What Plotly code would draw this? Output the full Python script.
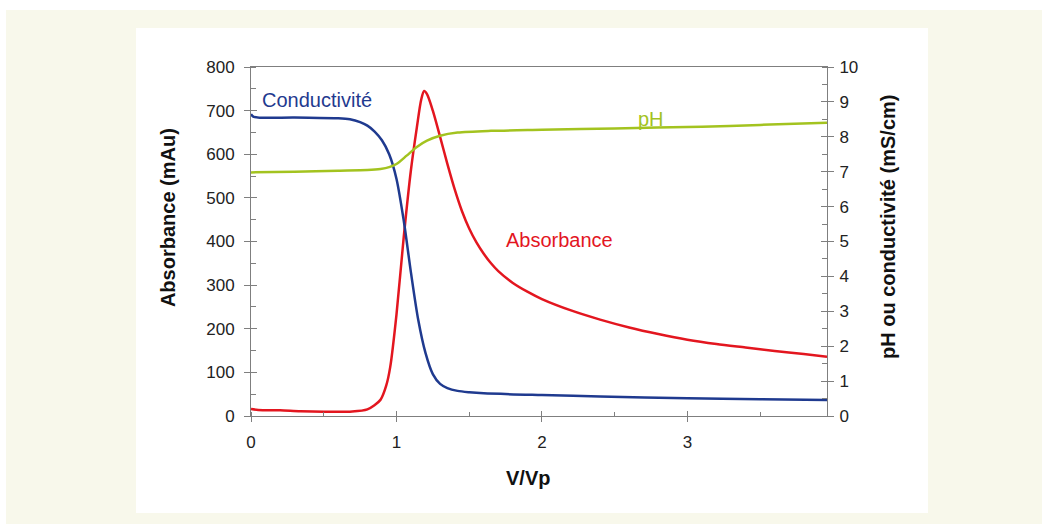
import plotly.graph_objects as go

# ---- data ----
abs_x = [0, 0.05, 0.2, 0.34, 0.5, 0.68, 0.8, 0.89, 0.93, 0.957, 1.0, 1.05, 1.1, 1.14, 1.17, 1.19,
         1.21, 1.25, 1.3, 1.35, 1.4, 1.45, 1.5, 1.55, 1.6, 1.65, 1.7, 1.8, 1.9, 2.0, 2.2,
         2.4, 2.6, 2.8, 3.0, 3.2, 3.4, 3.6, 3.8, 3.96]
abs_y = [16, 14, 13, 11, 10, 10, 15, 37, 70, 112, 232, 410, 565, 661, 725, 745,
         738, 700, 640, 578, 520, 470, 430, 398, 372, 350, 332, 305, 285, 268, 242,
         221, 203, 188, 175, 165, 157, 149, 142, 136]

cond_x = [0, 0.02, 0.3, 0.6, 0.68, 0.75, 0.8, 0.85, 0.9, 0.95, 1.0, 1.05, 1.1,
          1.15, 1.2, 1.25, 1.3, 1.35, 1.42, 1.5, 1.6, 2.0, 2.4, 3.0, 3.5, 3.96]
cond_y = [8.65, 8.57, 8.55, 8.53, 8.5, 8.42, 8.32, 8.15, 7.9, 7.5, 6.8, 5.6, 4.1,
          2.75, 1.8, 1.2, 0.92, 0.8, 0.72, 0.68, 0.65, 0.6, 0.56, 0.51, 0.48, 0.46]

ph_x = [0, 0.3, 0.6, 0.8, 0.89, 0.95, 1.0, 1.07, 1.14, 1.21, 1.3, 1.42, 1.65, 2.0, 2.5, 3.1, 3.5, 3.96]
ph_y = [6.98, 7.0, 7.03, 7.05, 7.08, 7.13, 7.22, 7.46, 7.71, 7.89, 8.03, 8.12, 8.17, 8.2, 8.24, 8.29, 8.34, 8.4]

x_ticks = [0, 1, 2, 3]
left_ticks = [0, 100, 200, 300, 400, 500, 600, 700, 800]
right_ticks = [0, 1, 2, 3, 4, 5, 6, 7, 8, 9, 10]

BLUE = "#1f3a8f"
RED = "#e3161f"
GREEN = "#a3c31f"
AX = "#7f7f7f"
FONT = "Liberation Sans, Arial, sans-serif"

fig = go.Figure()
fig.add_trace(go.Scatter(x=cond_x, y=cond_y, mode="lines", yaxis="y2",
                         line=dict(color=BLUE, width=2.5, shape="spline", smoothing=0.8),
                         name="Conductivité", hoverinfo="skip"))
fig.add_trace(go.Scatter(x=ph_x, y=ph_y, mode="lines", yaxis="y2",
                         line=dict(color=GREEN, width=2.5, shape="spline", smoothing=0.8),
                         name="pH", hoverinfo="skip"))
fig.add_trace(go.Scatter(x=abs_x, y=abs_y, mode="lines", yaxis="y",
                         line=dict(color=RED, width=2.5, shape="spline", smoothing=0.8),
                         name="Absorbance", hoverinfo="skip"))
# dummy traces to register the overlay tick axes
fig.add_trace(go.Scatter(x=[None], y=[None], xaxis="x2", yaxis="y3", showlegend=False, hoverinfo="skip"))
fig.add_trace(go.Scatter(x=[None], y=[None], xaxis="x", yaxis="y4", showlegend=False, hoverinfo="skip"))

XR = [0, 3.96]
tickfont = dict(family=FONT, size=17, color="#222222")

fig.update_layout(
    width=1042, height=524,
    margin=dict(l=251, r=215, t=67, b=108, pad=0),
    paper_bgcolor="white", plot_bgcolor="white",
    showlegend=False,
    font=dict(family=FONT),
    xaxis=dict(range=XR, tickvals=x_ticks, ticks="outside", ticklen=5, tickcolor=AX,
               showline=True, linecolor=AX, linewidth=1, mirror=True, showgrid=False,
               zeroline=False, tickfont=tickfont, ticklabelstandoff=6,
               minor=dict(dtick=0.5, tick0=0, ticks="inside", ticklen=4, tickcolor=AX, showgrid=False)),
    xaxis2=dict(range=XR, overlaying="x", anchor="y", side="bottom", tickvals=x_ticks,
                ticks="inside", ticklen=5, tickcolor=AX, showticklabels=False,
                showline=False, showgrid=False, zeroline=False),
    yaxis=dict(range=[0, 800], tickvals=left_ticks, ticks="outside", ticklen=6, tickcolor=AX,
               showline=True, linecolor=AX, linewidth=1, showgrid=False, zeroline=False,
               tickfont=tickfont, ticklabelstandoff=6,
               minor=dict(dtick=50, tick0=0, ticks="inside", ticklen=5, tickcolor=AX, showgrid=False)),
    yaxis2=dict(range=[0, 10], overlaying="y", side="right", anchor="x", tickvals=right_ticks,
                ticks="outside", ticklen=6, tickcolor=AX, showline=True, linecolor=AX, linewidth=1,
                showgrid=False, zeroline=False, tickfont=tickfont, ticklabelstandoff=2,
                minor=dict(dtick=0.5, tick0=0, ticks="inside", ticklen=5, tickcolor=AX, showgrid=False)),
    yaxis3=dict(range=[0, 800], overlaying="y", side="left", anchor="x", tickvals=left_ticks,
                ticks="inside", ticklen=6, tickcolor=AX, showticklabels=False,
                showline=False, showgrid=False, zeroline=False),
    yaxis4=dict(range=[0, 10], overlaying="y", side="right", anchor="x", tickvals=right_ticks,
                ticks="inside", ticklen=6, tickcolor=AX, showticklabels=False,
                showline=False, showgrid=False, zeroline=False),
    shapes=[
        dict(type="rect", xref="paper", yref="paper", x0=-0.4253, x1=1.40, y0=-0.36, y1=1.1633,
             fillcolor="#f8f8eb", line=dict(width=0), layer="below"),
        dict(type="rect", xref="paper", yref="paper", x0=-0.1997, x1=1.1753, y0=-0.2779, y1=1.1117,
             fillcolor="white", line=dict(width=0), layer="below"),
    ],
    annotations=[
        dict(text="<b>Absorbance (mAu)</b>", xref="paper", yref="paper", x=-0.1441, y=0.57,
             textangle=-90, showarrow=False, font=dict(size=20, color="#111111", family=FONT),
             xanchor="center", yanchor="middle"),
        dict(text="<b>pH ou conductivité (mS/cm)</b>", xref="paper", yref="paper", x=1.1059, y=0.5415,
             textangle=-90, showarrow=False, font=dict(size=20, color="#111111", family=FONT),
             xanchor="center", yanchor="middle"),
        dict(text="<b>V/Vp</b>", xref="paper", yref="paper", x=0.4809, y=-0.1777,
             showarrow=False, font=dict(size=20, color="#111111", family=FONT),
             xanchor="center", yanchor="middle"),
        dict(text="Conductivité", xref="x", yref="y2", x=0.454, y=9.06, showarrow=False,
             font=dict(size=20, color=BLUE, family=FONT), xanchor="center", yanchor="middle"),
        dict(text="pH", xref="x", yref="y2", x=2.75, y=8.51, showarrow=False,
             font=dict(size=20, color=GREEN, family=FONT), xanchor="center", yanchor="middle"),
        dict(text="Absorbance", xref="x", yref="y", x=2.118, y=403, showarrow=False,
             font=dict(size=20, color=RED, family=FONT), xanchor="center", yanchor="middle"),
    ],
)

fig.write_html("out.html")
